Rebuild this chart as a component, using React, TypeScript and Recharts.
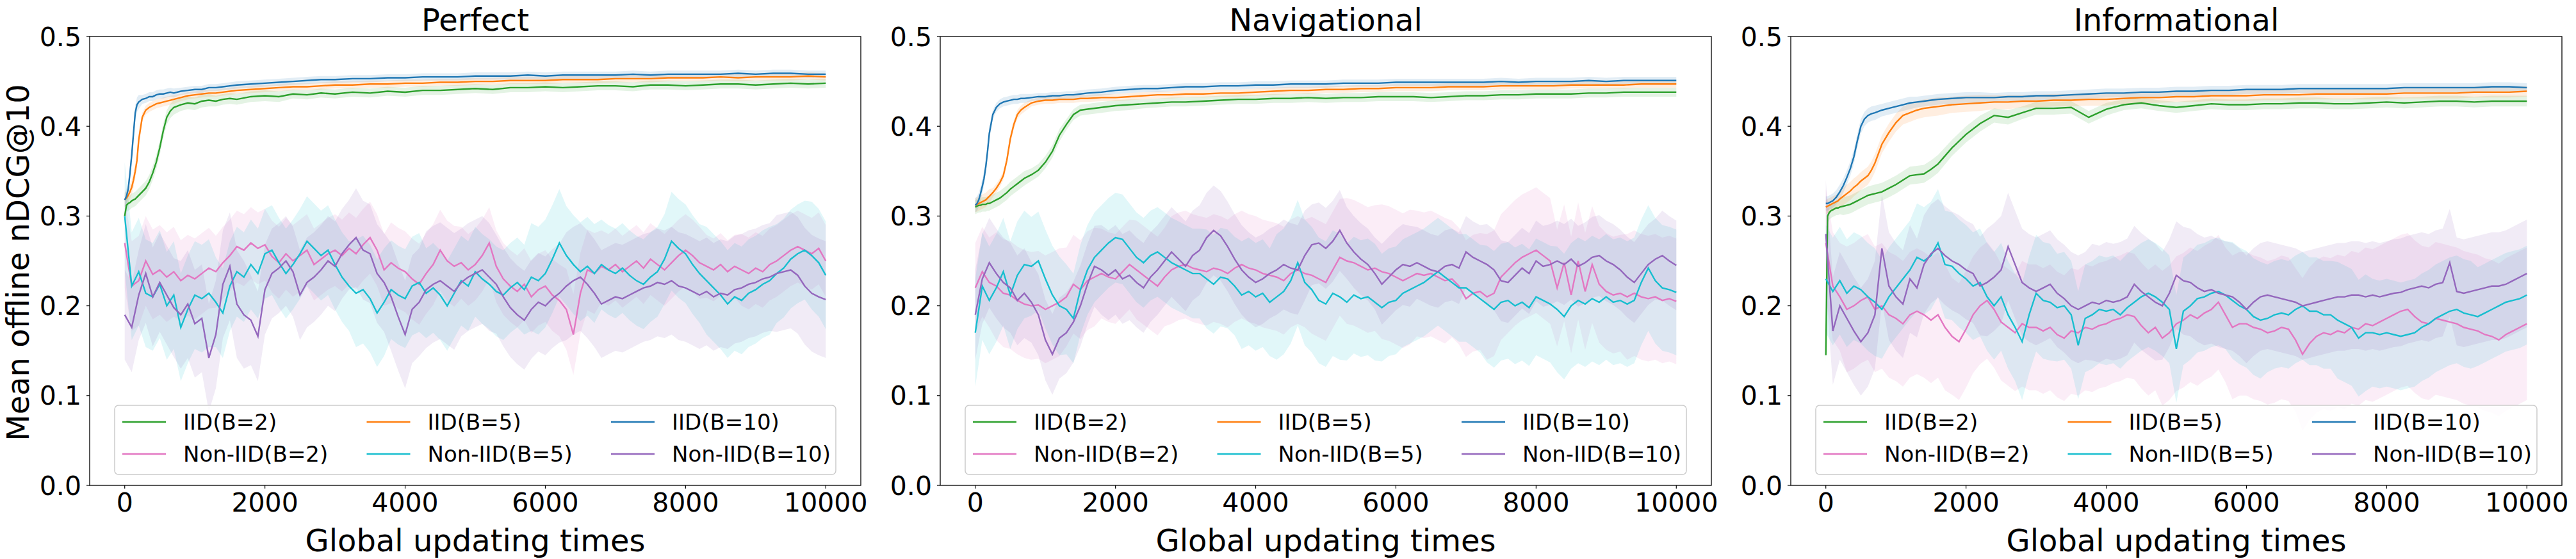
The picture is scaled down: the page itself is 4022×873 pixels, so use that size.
import React from 'react';
import { ComposedChart, Line, Area, XAxis, YAxis } from 'recharts';

const FONT = '"DejaVu Sans", sans-serif';

const X_TICKS = [0, 2000, 4000, 6000, 8000, 10000];
const Y_TICKS = [0, 0.1, 0.2, 0.3, 0.4, 0.5];
const TITLES = ['Perfect', 'Navigational', 'Informational'];
const LABELS = ['IID(B=2)', 'Non-IID(B=2)', 'IID(B=5)', 'Non-IID(B=5)', 'IID(B=10)', 'Non-IID(B=10)'];
const COLORS = ['#2ca02c', '#e377c2', '#ff7f0e', '#17becf', '#1f77b4', '#9467bd'];

// x positions of the IID samples (dense near the start)
const IID_X = [
  0, 25, 50, 75, 100, 125, 150, 175, 200,
  250, 300, 350, 400, 450, 500, 550, 600, 650, 700,
  800, 900, 1000, 1100, 1200, 1300, 1400, 1500, 1600,
  1800, 2000, 2200, 2400, 2600, 2800, 3000,
  3250, 3500, 3750, 4000, 4250, 4500, 4750, 5000, 5250, 5500, 5750, 6000, 6250, 6500, 6750,
  7000, 7250, 7500, 7750, 8000, 8250, 8500, 8750, 9000, 9250, 9500, 9750, 10000,
];
// non-IID samples every 100 updates
const NIID_X = Array.from({ length: 101 }, (_, i) => i * 100);

// ---- Perfect ----
const P1_IID2 = [
  0.300, 0.312, 0.314, 0.315, 0.317, 0.318, 0.319, 0.321, 0.323,
  0.327, 0.331, 0.338, 0.348, 0.360, 0.376, 0.395, 0.410, 0.417, 0.421,
  0.424, 0.426, 0.425, 0.428, 0.429, 0.428, 0.430, 0.431, 0.430,
  0.433, 0.434, 0.433, 0.436, 0.435, 0.437, 0.436,
  0.438, 0.437, 0.439, 0.438, 0.440, 0.440, 0.441, 0.442, 0.441, 0.443, 0.443, 0.444, 0.443, 0.444, 0.445,
  0.445, 0.444, 0.446, 0.446, 0.445, 0.446, 0.447, 0.447, 0.446, 0.447, 0.448, 0.447, 0.448,
];
const P1_IID5 = [
  0.318, 0.320, 0.323, 0.327, 0.332, 0.340, 0.350, 0.362, 0.385,
  0.410, 0.418, 0.421, 0.423, 0.425, 0.426, 0.427, 0.428, 0.429, 0.430,
  0.432, 0.434, 0.435, 0.436, 0.437, 0.437, 0.438, 0.439, 0.440,
  0.441, 0.442, 0.443, 0.444, 0.444, 0.445, 0.446,
  0.446, 0.447, 0.447, 0.448, 0.448, 0.449, 0.449, 0.450, 0.450, 0.451, 0.451, 0.451, 0.452, 0.452, 0.452,
  0.453, 0.453, 0.453, 0.454, 0.454, 0.454, 0.455, 0.454, 0.455, 0.455, 0.455, 0.456, 0.455,
];
const P1_IID10 = [
  0.318, 0.322, 0.330, 0.348, 0.368, 0.392, 0.415, 0.424, 0.427,
  0.430, 0.431, 0.433, 0.433, 0.435, 0.436, 0.436, 0.437, 0.438, 0.437,
  0.439, 0.440, 0.441, 0.441, 0.443, 0.443, 0.444, 0.445, 0.446,
  0.447, 0.448, 0.449, 0.450, 0.451, 0.452, 0.452,
  0.453, 0.453, 0.454, 0.454, 0.455, 0.455, 0.455, 0.456, 0.456, 0.456, 0.457, 0.456, 0.457, 0.457, 0.457,
  0.457, 0.458, 0.457, 0.458, 0.458, 0.458, 0.458, 0.459, 0.458, 0.459, 0.459, 0.458, 0.458,
];
const P1_NIID2 = [
  0.270, 0.222, 0.228, 0.250, 0.235, 0.240, 0.232, 0.238, 0.228, 0.234,
  0.230, 0.236, 0.242, 0.238, 0.248, 0.256, 0.266, 0.262, 0.270, 0.264,
  0.268, 0.255, 0.248, 0.258, 0.250, 0.256, 0.262, 0.246, 0.252, 0.258,
  0.262, 0.256, 0.264, 0.258, 0.268, 0.276, 0.262, 0.240, 0.248, 0.242,
  0.238, 0.230, 0.224, 0.236, 0.246, 0.262, 0.250, 0.244, 0.248, 0.240,
  0.246, 0.256, 0.270, 0.244, 0.230, 0.222, 0.216, 0.224, 0.210, 0.218,
  0.222, 0.212, 0.206, 0.196, 0.168, 0.214, 0.240, 0.236, 0.244, 0.240,
  0.246, 0.238, 0.244, 0.250, 0.242, 0.252, 0.246, 0.240, 0.248, 0.256,
  0.262, 0.256, 0.248, 0.244, 0.240, 0.246, 0.238, 0.244, 0.240, 0.236,
  0.242, 0.238, 0.246, 0.250, 0.256, 0.262, 0.266, 0.262, 0.258, 0.264,
  0.250,
];
const P1_NIID5 = [
  0.300, 0.222, 0.238, 0.214, 0.210, 0.224, 0.200, 0.212, 0.176, 0.196,
  0.212, 0.208, 0.214, 0.204, 0.192, 0.222, 0.238, 0.232, 0.246, 0.236,
  0.258, 0.262, 0.248, 0.236, 0.246, 0.258, 0.272, 0.264, 0.256, 0.262,
  0.246, 0.232, 0.222, 0.214, 0.218, 0.208, 0.192, 0.204, 0.218, 0.212,
  0.208, 0.222, 0.226, 0.214, 0.220, 0.212, 0.200, 0.214, 0.228, 0.222,
  0.238, 0.230, 0.224, 0.216, 0.212, 0.220, 0.226, 0.218, 0.232, 0.228,
  0.236, 0.252, 0.270, 0.256, 0.246, 0.238, 0.244, 0.236, 0.246, 0.240,
  0.236, 0.242, 0.234, 0.228, 0.224, 0.232, 0.238, 0.252, 0.272, 0.264,
  0.258, 0.246, 0.236, 0.228, 0.220, 0.212, 0.202, 0.210, 0.206, 0.214,
  0.218, 0.224, 0.228, 0.236, 0.242, 0.252, 0.258, 0.262, 0.256, 0.248,
  0.234,
];
const P1_NIID10 = [
  0.190, 0.176, 0.212, 0.236, 0.210, 0.226, 0.212, 0.198, 0.190, 0.202,
  0.180, 0.186, 0.142, 0.168, 0.224, 0.244, 0.202, 0.190, 0.184, 0.166,
  0.218, 0.236, 0.242, 0.250, 0.238, 0.212, 0.226, 0.232, 0.240, 0.250,
  0.244, 0.258, 0.268, 0.276, 0.262, 0.258, 0.236, 0.226, 0.210, 0.188,
  0.168, 0.196, 0.204, 0.218, 0.224, 0.228, 0.222, 0.216, 0.226, 0.232,
  0.236, 0.240, 0.232, 0.224, 0.210, 0.198, 0.190, 0.184, 0.196, 0.204,
  0.200, 0.208, 0.214, 0.222, 0.228, 0.232, 0.224, 0.214, 0.202, 0.206,
  0.210, 0.208, 0.212, 0.216, 0.220, 0.222, 0.226, 0.224, 0.228, 0.222,
  0.220, 0.216, 0.212, 0.216, 0.210, 0.214, 0.212, 0.218, 0.220, 0.224,
  0.226, 0.230, 0.232, 0.236, 0.238, 0.240, 0.234, 0.222, 0.214, 0.210,
  0.207,
];

// ---- Navigational ----
const P2_IID2 = [
  0.310, 0.311, 0.312, 0.312, 0.313, 0.313, 0.313, 0.314, 0.314,
  0.316, 0.318, 0.320, 0.323, 0.326, 0.330, 0.333, 0.336, 0.339, 0.342,
  0.346, 0.351, 0.360, 0.372, 0.390, 0.402, 0.413, 0.418, 0.419,
  0.421, 0.423, 0.424, 0.425, 0.426, 0.427, 0.427,
  0.428, 0.429, 0.430, 0.430, 0.431, 0.431, 0.432, 0.431, 0.432, 0.432, 0.433, 0.433, 0.433, 0.432, 0.433,
  0.434, 0.434, 0.435, 0.435, 0.436, 0.436, 0.436, 0.437, 0.437, 0.438, 0.438, 0.438, 0.438,
];
const P2_IID5 = [
  0.312, 0.313, 0.314, 0.315, 0.316, 0.317, 0.318, 0.320, 0.322,
  0.326, 0.331, 0.337, 0.345, 0.362, 0.386, 0.402, 0.413, 0.418, 0.421,
  0.426, 0.428, 0.429, 0.429, 0.430, 0.430, 0.430, 0.431, 0.431,
  0.432, 0.432, 0.433, 0.434, 0.435, 0.435, 0.436,
  0.436, 0.437, 0.437, 0.438, 0.439, 0.440, 0.440, 0.441, 0.441, 0.442, 0.442, 0.443, 0.443, 0.443, 0.444,
  0.444, 0.444, 0.445, 0.445, 0.445, 0.445, 0.446, 0.446, 0.446, 0.446, 0.447, 0.447, 0.447,
];
const P2_IID10 = [
  0.312, 0.314, 0.318, 0.325, 0.333, 0.342, 0.355, 0.372, 0.392,
  0.413, 0.421, 0.425, 0.427, 0.428, 0.429, 0.430, 0.430, 0.431, 0.431,
  0.432, 0.433, 0.433, 0.434, 0.434, 0.435, 0.435, 0.436, 0.437,
  0.438, 0.440, 0.441, 0.442, 0.442, 0.443, 0.444,
  0.444, 0.445, 0.445, 0.446, 0.446, 0.447, 0.447, 0.447, 0.448, 0.448, 0.448, 0.449, 0.449, 0.449, 0.449,
  0.449, 0.449, 0.450, 0.449, 0.450, 0.450, 0.450, 0.451, 0.450, 0.451, 0.451, 0.451, 0.451,
];
const P2_NIID2 = [
  0.220, 0.238, 0.226, 0.222, 0.214, 0.212, 0.206, 0.202, 0.200, 0.201,
  0.196, 0.200, 0.204, 0.210, 0.224, 0.218, 0.228, 0.232, 0.236, 0.232,
  0.230, 0.238, 0.246, 0.240, 0.234, 0.228, 0.222, 0.232, 0.240, 0.244,
  0.246, 0.242, 0.240, 0.238, 0.242, 0.240, 0.236, 0.242, 0.246, 0.242,
  0.240, 0.236, 0.234, 0.232, 0.228, 0.236, 0.240, 0.236, 0.234, 0.230,
  0.226, 0.240, 0.254, 0.250, 0.248, 0.244, 0.240, 0.242, 0.238, 0.236,
  0.232, 0.228, 0.232, 0.236, 0.234, 0.236, 0.232, 0.228, 0.230, 0.222,
  0.208, 0.214, 0.216, 0.210, 0.214, 0.232, 0.240, 0.248, 0.254, 0.258,
  0.262, 0.256, 0.250, 0.220, 0.248, 0.212, 0.250, 0.216, 0.246, 0.224,
  0.216, 0.212, 0.214, 0.210, 0.214, 0.210, 0.208, 0.210, 0.206, 0.208,
  0.205,
];
const P2_NIID5 = [
  0.170, 0.222, 0.206, 0.220, 0.238, 0.212, 0.234, 0.246, 0.244, 0.250,
  0.230, 0.212, 0.200, 0.196, 0.186, 0.218, 0.240, 0.254, 0.262, 0.270,
  0.276, 0.274, 0.264, 0.254, 0.248, 0.256, 0.260, 0.254, 0.248, 0.244,
  0.240, 0.236, 0.236, 0.230, 0.224, 0.232, 0.230, 0.222, 0.212, 0.216,
  0.210, 0.214, 0.204, 0.210, 0.216, 0.228, 0.248, 0.226, 0.218, 0.206,
  0.202, 0.214, 0.210, 0.204, 0.212, 0.208, 0.210, 0.204, 0.198, 0.204,
  0.206, 0.214, 0.218, 0.222, 0.226, 0.232, 0.238, 0.232, 0.226, 0.220,
  0.220, 0.214, 0.208, 0.202, 0.196, 0.204, 0.206, 0.200, 0.204, 0.198,
  0.210, 0.206, 0.202, 0.196, 0.188, 0.200, 0.206, 0.202, 0.208, 0.204,
  0.210, 0.204, 0.206, 0.202, 0.206, 0.226, 0.242, 0.228, 0.220, 0.218,
  0.215,
];
const P2_NIID10 = [
  0.190, 0.230, 0.248, 0.236, 0.226, 0.220, 0.206, 0.214, 0.204, 0.190,
  0.162, 0.146, 0.164, 0.170, 0.182, 0.200, 0.224, 0.244, 0.240, 0.234,
  0.240, 0.230, 0.234, 0.226, 0.220, 0.232, 0.240, 0.250, 0.260, 0.252,
  0.244, 0.256, 0.262, 0.276, 0.284, 0.278, 0.266, 0.252, 0.240, 0.232,
  0.226, 0.230, 0.236, 0.240, 0.246, 0.242, 0.240, 0.256, 0.268, 0.270,
  0.264, 0.272, 0.284, 0.270, 0.260, 0.252, 0.246, 0.236, 0.224, 0.232,
  0.240, 0.246, 0.244, 0.248, 0.244, 0.240, 0.238, 0.244, 0.246, 0.242,
  0.260, 0.254, 0.250, 0.246, 0.240, 0.228, 0.226, 0.234, 0.242, 0.236,
  0.250, 0.244, 0.246, 0.250, 0.246, 0.252, 0.244, 0.248, 0.254, 0.256,
  0.250, 0.246, 0.240, 0.232, 0.226, 0.236, 0.246, 0.252, 0.256, 0.250,
  0.245,
];

// ---- Informational ----
const P3_IID2 = [
  0.145, 0.300, 0.304, 0.306, 0.307, 0.308, 0.309, 0.309, 0.310,
  0.311, 0.312, 0.313, 0.315, 0.317, 0.319, 0.321, 0.323, 0.324, 0.325,
  0.327, 0.331, 0.335, 0.340, 0.345, 0.346, 0.347, 0.352, 0.358,
  0.376, 0.391, 0.403, 0.412, 0.410, 0.415, 0.420,
  0.420, 0.421, 0.410, 0.419, 0.424, 0.426, 0.423, 0.421, 0.423, 0.425, 0.424, 0.424, 0.425, 0.425, 0.426,
  0.426, 0.425, 0.425, 0.426, 0.427, 0.426, 0.427, 0.428, 0.428, 0.427, 0.428, 0.428, 0.428,
];
const P3_IID5 = [
  0.310, 0.311, 0.312, 0.313, 0.314, 0.315, 0.316, 0.317, 0.319,
  0.322, 0.325, 0.328, 0.332, 0.335, 0.339, 0.342, 0.345, 0.351, 0.359,
  0.380, 0.393, 0.404, 0.412, 0.415, 0.418, 0.420, 0.421, 0.422,
  0.424, 0.425, 0.426, 0.427, 0.427, 0.428, 0.428,
  0.429, 0.429, 0.430, 0.430, 0.431, 0.432, 0.432, 0.433, 0.433, 0.434, 0.434, 0.434, 0.435, 0.435, 0.435,
  0.436, 0.436, 0.436, 0.436, 0.436, 0.437, 0.437, 0.437, 0.437, 0.438, 0.438, 0.438, 0.439,
];
const P3_IID10 = [
  0.314, 0.314, 0.315, 0.316, 0.317, 0.319, 0.321, 0.324, 0.327,
  0.334, 0.343, 0.353, 0.366, 0.384, 0.400, 0.408, 0.412, 0.414, 0.415,
  0.418, 0.420, 0.422, 0.424, 0.426, 0.427, 0.428, 0.429, 0.430,
  0.431, 0.432, 0.432, 0.432, 0.433, 0.433, 0.434,
  0.434, 0.435, 0.436, 0.437, 0.437, 0.438, 0.438, 0.439, 0.439, 0.440, 0.440, 0.441, 0.441, 0.441, 0.442,
  0.442, 0.442, 0.442, 0.442, 0.442, 0.443, 0.443, 0.443, 0.443, 0.443, 0.444, 0.444, 0.443,
];
const P3_NIID2 = [
  0.270, 0.222, 0.210, 0.196, 0.200, 0.206, 0.210, 0.196, 0.200, 0.190,
  0.186, 0.180, 0.190, 0.194, 0.190, 0.184, 0.190, 0.176, 0.166, 0.160,
  0.174, 0.190, 0.200, 0.206, 0.196, 0.182, 0.176, 0.170, 0.180, 0.176,
  0.176, 0.172, 0.176, 0.168, 0.164, 0.172, 0.170, 0.176, 0.174, 0.178,
  0.180, 0.184, 0.186, 0.190, 0.188, 0.178, 0.170, 0.176, 0.164, 0.170,
  0.180, 0.184, 0.190, 0.186, 0.192, 0.196, 0.204, 0.190, 0.176, 0.180,
  0.180, 0.176, 0.174, 0.170, 0.172, 0.176, 0.174, 0.162, 0.146, 0.158,
  0.166, 0.170, 0.168, 0.172, 0.170, 0.176, 0.174, 0.180, 0.178, 0.182,
  0.186, 0.190, 0.194, 0.196, 0.188, 0.182, 0.180, 0.186, 0.184, 0.182,
  0.180, 0.176, 0.174, 0.172, 0.168, 0.166, 0.162, 0.168, 0.172, 0.176,
  0.180,
];
const P3_NIID5 = [
  0.230, 0.216, 0.228, 0.214, 0.222, 0.218, 0.210, 0.204, 0.196, 0.210,
  0.220, 0.230, 0.240, 0.254, 0.250, 0.256, 0.270, 0.246, 0.244, 0.236,
  0.230, 0.222, 0.226, 0.210, 0.200, 0.210, 0.190, 0.176, 0.160, 0.190,
  0.214, 0.206, 0.204, 0.198, 0.200, 0.190, 0.156, 0.186, 0.190, 0.196,
  0.194, 0.196, 0.190, 0.198, 0.204, 0.210, 0.214, 0.210, 0.204, 0.196,
  0.152, 0.194, 0.200, 0.208, 0.210, 0.214, 0.216, 0.212, 0.206, 0.200,
  0.196, 0.188, 0.184, 0.186, 0.190, 0.192, 0.190, 0.196, 0.200, 0.194,
  0.194, 0.190, 0.190, 0.184, 0.180, 0.176, 0.164, 0.170, 0.170, 0.168,
  0.170, 0.168, 0.166, 0.168, 0.170, 0.176, 0.180, 0.186, 0.190, 0.194,
  0.196, 0.192, 0.190, 0.188, 0.192, 0.196, 0.200, 0.204, 0.206, 0.208,
  0.212,
];
const P3_NIID10 = [
  0.280, 0.172, 0.200, 0.186, 0.172, 0.160, 0.170, 0.190, 0.264, 0.222,
  0.210, 0.202, 0.230, 0.220, 0.246, 0.258, 0.264, 0.256, 0.250, 0.246,
  0.240, 0.236, 0.222, 0.226, 0.232, 0.240, 0.266, 0.246, 0.226, 0.220,
  0.216, 0.220, 0.224, 0.214, 0.208, 0.200, 0.196, 0.200, 0.204, 0.202,
  0.206, 0.204, 0.206, 0.210, 0.224, 0.216, 0.210, 0.204, 0.200, 0.214,
  0.234, 0.228, 0.226, 0.220, 0.216, 0.218, 0.214, 0.212, 0.210, 0.204,
  0.196, 0.204, 0.210, 0.212, 0.210, 0.208, 0.206, 0.204, 0.200, 0.202,
  0.204, 0.206, 0.208, 0.210, 0.210, 0.212, 0.212, 0.210, 0.212, 0.210,
  0.212, 0.214, 0.215, 0.218, 0.220, 0.222, 0.220, 0.224, 0.226, 0.248,
  0.216, 0.214, 0.216, 0.218, 0.220, 0.222, 0.222, 0.224, 0.228, 0.232,
  0.236,
];

// standard deviations, one value per 500 updates
const SD_IID_FAST = [0.008, 0.005, 0.004, 0.004, 0.004, 0.004, 0.004, 0.004, 0.004, 0.004, 0.004, 0.004, 0.004, 0.004, 0.004, 0.004, 0.004, 0.004, 0.004, 0.004, 0.004];
const SD_IID_SLOW = [0.008, 0.008, 0.007, 0.006, 0.006, 0.005, 0.005, 0.005, 0.005, 0.005, 0.005, 0.005, 0.005, 0.005, 0.005, 0.005, 0.005, 0.005, 0.005, 0.005, 0.005];
const SD_IID_P3 = [0.008, 0.010, 0.010, 0.010, 0.009, 0.008, 0.007, 0.007, 0.007, 0.006, 0.006, 0.006, 0.006, 0.006, 0.006, 0.006, 0.006, 0.006, 0.006, 0.006, 0.006];
const P1_SD2 = [0.050, 0.050, 0.045, 0.040, 0.040, 0.040, 0.040, 0.040, 0.045, 0.045, 0.040, 0.040, 0.040, 0.045, 0.040, 0.040, 0.040, 0.035, 0.040, 0.040, 0.040];
const P1_SD5 = [0.060, 0.060, 0.060, 0.050, 0.050, 0.050, 0.050, 0.060, 0.055, 0.050, 0.050, 0.050, 0.060, 0.055, 0.050, 0.050, 0.055, 0.060, 0.060, 0.055, 0.060];
const P1_SD10 = [0.050, 0.055, 0.060, 0.060, 0.050, 0.050, 0.050, 0.055, 0.060, 0.065, 0.060, 0.055, 0.055, 0.060, 0.060, 0.060, 0.060, 0.060, 0.060, 0.065, 0.065];
const P2_SD2 = [0.050, 0.060, 0.060, 0.055, 0.050, 0.055, 0.060, 0.060, 0.060, 0.060, 0.065, 0.070, 0.075, 0.070, 0.065, 0.070, 0.070, 0.065, 0.065, 0.070, 0.070];
const P2_SD5 = [0.060, 0.060, 0.055, 0.050, 0.050, 0.050, 0.050, 0.055, 0.060, 0.070, 0.070, 0.065, 0.060, 0.060, 0.060, 0.065, 0.065, 0.070, 0.070, 0.070, 0.070];
const P2_SD10 = [0.050, 0.050, 0.045, 0.045, 0.050, 0.050, 0.050, 0.050, 0.050, 0.050, 0.045, 0.040, 0.045, 0.040, 0.040, 0.045, 0.045, 0.045, 0.045, 0.045, 0.050];
const P3_SD2 = [0.060, 0.070, 0.070, 0.070, 0.065, 0.065, 0.070, 0.070, 0.070, 0.070, 0.075, 0.075, 0.080, 0.080, 0.085, 0.085, 0.085, 0.085, 0.085, 0.085, 0.085];
const P3_SD5 = [0.060, 0.060, 0.055, 0.060, 0.060, 0.060, 0.065, 0.060, 0.060, 0.060, 0.060, 0.060, 0.065, 0.060, 0.060, 0.065, 0.060, 0.060, 0.060, 0.055, 0.055];
const P3_SD10 = [0.060, 0.060, 0.060, 0.055, 0.055, 0.060, 0.060, 0.060, 0.065, 0.065, 0.060, 0.060, 0.060, 0.060, 0.060, 0.060, 0.060, 0.060, 0.060, 0.060, 0.060];

type Pt = { x: number; y: number; band: [number, number] };

function build(xs: number[], ys: number[], sd: number[]): Pt[] {
  return xs.map((x, i) => {
    const s = sd[Math.round(x / 500)];
    return { x, y: ys[i], band: [ys[i] - s, ys[i] + s] };
  });
}

// plotting order: IID2, NonIID2, IID5, NonIID5, IID10, NonIID10
const PANEL_SERIES: Pt[][][] = [
  [
    build(IID_X, P1_IID2, SD_IID_SLOW), build(NIID_X, P1_NIID2, P1_SD2),
    build(IID_X, P1_IID5, SD_IID_FAST), build(NIID_X, P1_NIID5, P1_SD5),
    build(IID_X, P1_IID10, SD_IID_FAST), build(NIID_X, P1_NIID10, P1_SD10),
  ],
  [
    build(IID_X, P2_IID2, SD_IID_SLOW), build(NIID_X, P2_NIID2, P2_SD2),
    build(IID_X, P2_IID5, SD_IID_FAST), build(NIID_X, P2_NIID5, P2_SD5),
    build(IID_X, P2_IID10, SD_IID_FAST), build(NIID_X, P2_NIID10, P2_SD10),
  ],
  [
    build(IID_X, P3_IID2, SD_IID_P3), build(NIID_X, P3_NIID2, P3_SD2),
    build(IID_X, P3_IID5, SD_IID_P3), build(NIID_X, P3_NIID5, P3_SD5),
    build(IID_X, P3_IID10, SD_IID_SLOW), build(NIID_X, P3_NIID10, P3_SD10),
  ],
];

const AX_LEFT = [140, 1468, 2796];
const AX_W = 1204;
const AX_TOP = 57;
const AX_BOTTOM = 758;
const Y_AXIS_W = 140;

function Panel({ left, series }: { left: number; series: Pt[][] }) {
  const tick = { fontSize: 41, fill: '#000', fontFamily: FONT };
  return (
    <div style={{ position: 'absolute', left: left - Y_AXIS_W, top: 0 }}>
      <ComposedChart
        width={Y_AXIS_W + AX_W + 20}
        height={873}
        margin={{ top: AX_TOP, right: 20, bottom: 873 - AX_BOTTOM - 60, left: 0 }}
      >
        <XAxis
          type="number"
          dataKey="x"
          domain={[-500, 10500]}
          ticks={X_TICKS}
          interval={0}
          allowDataOverflow
          axisLine={false}
          tickLine={{ stroke: '#000', strokeWidth: 1.2 }}
          tickSize={5}
          tickMargin={7}
          height={60}
          tick={tick}
        />
        <YAxis
          type="number"
          domain={[0, 0.5]}
          ticks={Y_TICKS}
          interval={0}
          allowDataOverflow
          axisLine={false}
          tickLine={{ stroke: '#000', strokeWidth: 1.2 }}
          tickSize={5}
          tickMargin={8}
          width={Y_AXIS_W}
          tick={tick}
          tickFormatter={(v: number) => v.toFixed(1)}
        />
        {series.map((d, i) => (
          <Area
            key={`band-${i}`}
            data={d}
            dataKey="band"
            type="linear"
            stroke="none"
            fill={COLORS[i]}
            fillOpacity={0.13}
            isAnimationActive={false}
          />
        ))}
        {series.map((d, i) => (
          <Line
            key={`line-${i}`}
            data={d}
            dataKey="y"
            type="linear"
            stroke={COLORS[i]}
            strokeWidth={2.4}
            dot={false}
            isAnimationActive={false}
          />
        ))}
      </ComposedChart>
    </div>
  );
}

// legend entries laid out row by row: top row IID, bottom row Non-IID
const LEGEND_ORDER = [[0, 2, 4], [1, 3, 5]];

function Overlay() {
  return (
    <svg
      width={4022}
      height={873}
      style={{ position: 'absolute', left: 0, top: 0, pointerEvents: 'none' }}
      fontFamily={FONT}
    >
      <text
        x={45}
        y={410}
        transform="rotate(-90 45 410)"
        textAnchor="middle"
        fontSize={48}
        fill="#000"
      >
        Mean offline nDCG@10
      </text>
      {AX_LEFT.map((l, p) => (
        <g key={p}>
          <rect
            x={l}
            y={AX_TOP}
            width={AX_W}
            height={AX_BOTTOM - AX_TOP}
            fill="none"
            stroke="#000"
            strokeWidth={1.3}
          />
          <text x={l + AX_W / 2} y={48} textAnchor="middle" fontSize={48} fill="#000">
            {TITLES[p]}
          </text>
          <text x={l + AX_W / 2} y={861} textAnchor="middle" fontSize={48} fill="#000">
            Global updating times
          </text>
          <rect
            x={l + 39}
            y={633}
            width={AX_W - 78}
            height={108}
            rx={6}
            fill="#fff"
            fillOpacity={0.8}
            stroke="#cccccc"
            strokeWidth={1.5}
          />
          {LEGEND_ORDER.map((row, r) =>
            row.map((s, c) => {
              const x0 = l + 51 + c * 381.5;
              const yc = 659 + r * 50;
              return (
                <g key={`${r}-${c}`}>
                  <line x1={x0} x2={x0 + 68} y1={yc} y2={yc} stroke={COLORS[s]} strokeWidth={2.5} />
                  <text x={x0 + 95} y={yc + 12} fontSize={34} fill="#000">
                    {LABELS[s]}
                  </text>
                </g>
              );
            })
          )}
        </g>
      ))}
    </svg>
  );
}

export default function App() {
  return (
    <div
      style={{
        position: 'absolute',
        left: 0,
        top: 0,
        width: 4022,
        height: 873,
        background: '#fff',
        fontFamily: FONT,
      }}
    >
      {AX_LEFT.map((l, p) => (
        <Panel key={p} left={l} series={PANEL_SERIES[p]} />
      ))}
      <Overlay />
    </div>
  );
}
